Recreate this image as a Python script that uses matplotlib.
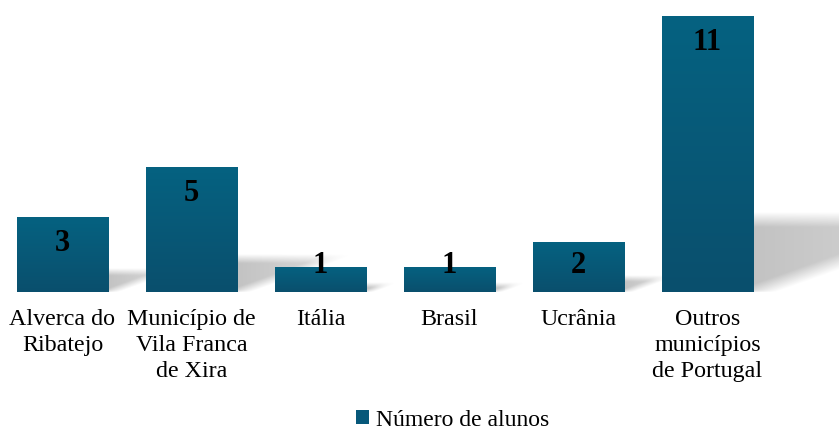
import numpy as np
import matplotlib.pyplot as plt
from matplotlib.patches import Patch
from matplotlib.colors import to_rgb

# Dados
categorias = ['Alverca do\nRibatejo', 'Município de\nVila Franca\nde Xira', 'Itália',
              'Brasil', 'Ucrânia', 'Outros\nmunicípios\nde Portugal']
alunos = [3, 5, 1, 1, 2, 11]
serie = 'Número de alunos'

cor_topo = '#056281'
cor_base = '#0A4F6D'

plt.rcParams['font.family'] = ['Liberation Serif', 'DejaVu Serif']

fig = plt.figure(figsize=(8.39, 4.30), dpi=100)
ax = fig.add_axes([0, 0.3209, 1, 0.6419])
ax.axis('off')

x = np.arange(len(alunos))
largura = 0.71
barras = ax.bar(x, alunos, width=largura, facecolor='none', edgecolor='none', zorder=3)

# gradiente das barras
c1 = np.array(to_rgb(cor_topo))
c2 = np.array(to_rgb(cor_base))
grad = np.linspace(0, 1, 256)[:, None]
img_barra = (c1[None, None, :] * (1 - grad[..., None]) + c2[None, None, :] * grad[..., None])

# px por unidade (para desenhar a sombra)
px_x = 129.0
px_y = 276.0 / 11
W = largura * px_x


def rampa(d, w):
    return np.clip(d / w, 0, 1)


for xi, v, rect in zip(x, alunos, barras):
    xl, xr = xi - largura / 2, xi + largura / 2
    h = v * px_y
    DX, DY = 0.74 * h, 0.26 * h
    blur = 4 + 0.04 * h
    # grelha em px relativa ao canto inferior esquerdo da barra
    nx, ny = int(W + DX + 2 * blur) + 2, int(DY + blur) + 2
    X, Y = np.meshgrid(np.arange(nx) + 0.5, np.arange(ny) + 0.5)
    s = X - (Y / DY) * DX
    norm = np.hypot(DX, DY)
    d_top = DY - Y
    d_dir = (W - s) * DY / norm
    alpha = 0.24 * rampa(d_top + blur / 2, blur) * rampa(d_dir + blur / 2, blur)
    alpha *= rampa(Y + 2, 4)
    # esbate para a ponta da sombra
    alpha *= 1 - 0.35 * np.clip((X - W) / (DX + 1e-9), 0, 1)
    img_s = np.zeros((ny, nx, 4))
    img_s[..., 3] = alpha
    ax.imshow(img_s, extent=[xl, xl + nx / px_x, 0, ny / px_y], origin='lower',
              aspect='auto', zorder=1, interpolation='bilinear')

    im2 = ax.imshow(img_barra, extent=[xl, xr, 0, v], origin='upper',
                    aspect='auto', zorder=3, interpolation='bilinear')
    im2.set_clip_path(rect)

    y_lab = max(v - 1.07, 1.05)
    ax.text(xi, y_lab, str(v), ha='center', va='center', fontsize=22,
            fontweight='bold', color='black', zorder=5)
    ax.text(xi, -0.66, categorias[xi], ha='center', va='top', fontsize=17.3,
            linespacing=1.33, color='black')

ax.set_xlim(-0.484, 6.02)
ax.set_ylim(0, 11)

fig.legend(handles=[Patch(facecolor='#07587A', edgecolor='none', label=serie)],
           loc='center', bbox_to_anchor=(0.540, 0.023), frameon=False,
           fontsize=17, handlelength=0.55, handleheight=0.55, handletextpad=0.3,
           borderaxespad=0)

fig.savefig('out.png', dpi=100)
